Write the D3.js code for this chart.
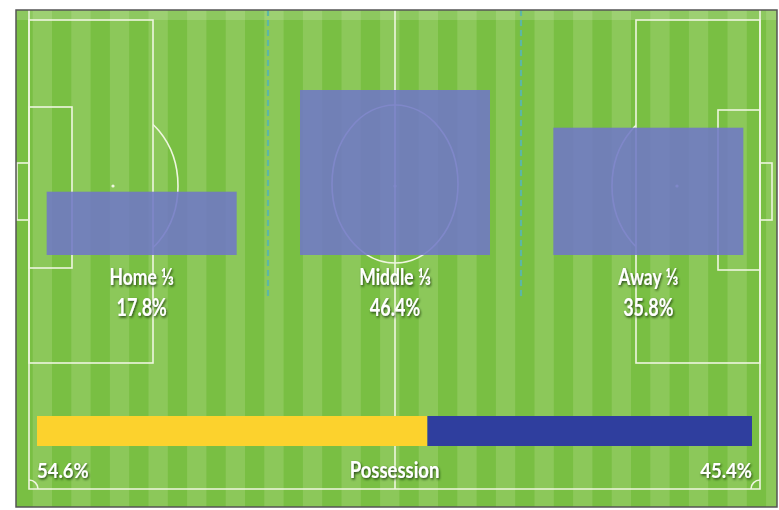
<!DOCTYPE html>
<html>
<head>
<meta charset="utf-8">
<script src="https://cdn.jsdelivr.net/npm/d3@7"></script>
<style>
  body { margin: 0; background: #fff; }
  text { font-family: Lato, "Open Sans", sans-serif; fill: #fff; }
</style>
</head>
<body>
<div id="chart"></div>
<script>
const w = 779,
      h = 510;

// territory by third
const thirds = ['Home ⅓', 'Middle ⅓', 'Away ⅓'];
const thirdValues = [17.8, 46.4, 35.8];

// possession split
const teams = ['Home', 'Away'];
const possession = [54.6, 45.4];
const possessionTitle = 'Possession';

const svg = d3.select('#chart').append('svg')
  .attr('width', w)
  .attr('height', h);

const defs = svg.append('defs');
const shadow = defs.append('filter').attr('id', 'shadow')
  .attr('x', '-20%').attr('y', '-20%').attr('width', '140%').attr('height', '160%');
shadow.append('feDropShadow')
  .attr('dx', 1).attr('dy', 1.5).attr('stdDeviation', 0.9)
  .attr('flood-color', '#17330d').attr('flood-opacity', 0.85);

defs.append('clipPath').attr('id', 'frame')
  .append('rect').attr('x', 16).attr('y', 10).attr('width', 761).attr('height', 497);
defs.append('clipPath').attr('id', 'arcL')
  .append('rect').attr('x', 153).attr('y', 0).attr('width', 100).attr('height', 400);
defs.append('clipPath').attr('id', 'arcR')
  .append('rect').attr('x', 536).attr('y', 0).attr('width', 100).attr('height', 400);

// pitch background
const pitch = svg.append('g').attr('clip-path', 'url(#frame)');
pitch.append('rect')
  .attr('x', 16).attr('y', 10).attr('width', 761).attr('height', 497)
  .attr('fill', '#79bf43');

const stripeW = 19.3;
pitch.selectAll('rect.stripe')
  .data(d3.range(0, 21))
  .enter()
  .append('rect')
  .attr('class', 'stripe')
  .attr('x', i => 32.7 + i * stripeW * 2)
  .attr('y', 10)
  .attr('width', stripeW)
  .attr('height', 497)
  .attr('fill', '#8cc85a');

pitch.append('rect')
  .attr('x', 16).attr('y', 10).attr('width', 761).attr('height', 10)
  .attr('fill', '#fff').attr('opacity', 0.15);

// pitch markings
const lines = pitch.append('g')
  .attr('fill', 'none')
  .attr('stroke', '#eef6df')
  .attr('stroke-width', 1.6);

lines.append('path').attr('d', 'M29,0 V489 H760 V0');
lines.append('line').attr('x1', 395).attr('x2', 395).attr('y1', 0).attr('y2', 489);
lines.append('rect').attr('x', 29).attr('y', 20).attr('width', 124).attr('height', 343);
lines.append('rect').attr('x', 636).attr('y', 20).attr('width', 124).attr('height', 343);
lines.append('rect').attr('x', 29).attr('y', 107).attr('width', 43).attr('height', 161);
lines.append('rect').attr('x', 718).attr('y', 110).attr('width', 42).attr('height', 160);
lines.append('rect').attr('x', 17).attr('y', 163).attr('width', 12).attr('height', 57);
lines.append('rect').attr('x', 760).attr('y', 163).attr('width', 12).attr('height', 57);
lines.append('ellipse').attr('cx', 395).attr('cy', 184).attr('rx', 63).attr('ry', 79);
lines.append('ellipse').attr('cx', 113).attr('cy', 186).attr('rx', 65).attr('ry', 78)
  .attr('clip-path', 'url(#arcL)');
lines.append('ellipse').attr('cx', 677).attr('cy', 186).attr('rx', 65).attr('ry', 78)
  .attr('clip-path', 'url(#arcR)');
lines.append('path').attr('d', 'M29,480 A9,9 0 0 1 38,489');
lines.append('path').attr('d', 'M751,489 A9,9 0 0 1 760,480');

[[113, 186], [395, 186], [677, 186]].forEach(([cx, cy]) => {
  pitch.append('circle').attr('cx', cx).attr('cy', cy).attr('r', 1.6).attr('fill', '#eef6df');
});

pitch.selectAll('line.third')
  .data([268, 521])
  .enter()
  .append('line')
  .attr('class', 'third')
  .attr('x1', d => d).attr('x2', d => d)
  .attr('y1', 10).attr('y2', 300)
  .attr('stroke', '#5db7a4')
  .attr('stroke-width', 2.2)
  .attr('stroke-dasharray', '6,4');

// territory bars
const xScale = d3.scaleBand()
  .domain(thirds)
  .range([15, 775])
  .paddingInner(0.25)
  .paddingOuter(0.125);

const yScale = d3.scaleLinear()
  .domain([0, d3.max(thirdValues)])
  .range([255, 90]);

svg.selectAll('rect.bar')
  .data(thirdValues)
  .enter()
  .append('rect')
  .attr('class', 'bar')
  .attr('x', (d, i) => xScale(thirds[i]))
  .attr('y', d => yScale(d))
  .attr('width', xScale.bandwidth())
  .attr('height', d => yScale(0) - yScale(d))
  .attr('fill', 'rgb(112,120,198)')
  .attr('opacity', 0.88);

const labels = svg.selectAll('g.label')
  .data(thirdValues)
  .enter()
  .append('g')
  .attr('class', 'label')
  .attr('filter', 'url(#shadow)')
  .attr('text-anchor', 'middle');

labels.append('text')
  .attr('transform', (d, i) => `translate(${xScale(thirds[i]) + xScale.bandwidth() / 2}, 285) scale(1, 1.25)`)
  .style('font-size', '17.5px')
  .style('font-weight', 700)
  .text((d, i) => thirds[i]);

labels.append('text')
  .attr('transform', (d, i) => `translate(${xScale(thirds[i]) + xScale.bandwidth() / 2}, 316) scale(1, 1.4)`)
  .style('font-size', '18px')
  .style('font-weight', 700)
  .text(d => d.toFixed(1) + '%');

// possession bar
const pScale = d3.scaleLinear()
  .domain([0, d3.sum(possession)])
  .range([37, 752]);

const stack = possession.map((v, i) => ({
  team: teams[i],
  x0: d3.sum(possession.slice(0, i)),
  x1: d3.sum(possession.slice(0, i + 1))
}));

svg.selectAll('rect.poss')
  .data(stack)
  .enter()
  .append('rect')
  .attr('class', 'poss')
  .attr('x', d => pScale(d.x0))
  .attr('y', 416)
  .attr('width', d => pScale(d.x1) - pScale(d.x0))
  .attr('height', 30)
  .attr('fill', (d, i) => i === 0 ? '#fcd22d' : '#2f3e9e');

const pLabels = svg.append('g').attr('filter', 'url(#shadow)')
  .style('font-weight', 700);

pLabels.append('text')
  .attr('transform', `translate(${pScale(0)}, 478) scale(1, 1.15)`)
  .attr('text-anchor', 'start')
  .style('font-size', '18.5px')
  .text(possession[0].toFixed(1) + '%');

pLabels.append('text')
  .attr('transform', `translate(${pScale(d3.sum(possession))}, 478) scale(1, 1.15)`)
  .attr('text-anchor', 'end')
  .style('font-size', '18.5px')
  .text(possession[1].toFixed(1) + '%');

pLabels.append('text')
  .attr('transform', `translate(${(pScale.range()[0] + pScale.range()[1]) / 2}, 478) scale(1, 1.2)`)
  .attr('text-anchor', 'middle')
  .style('font-size', '18.5px')
  .style('font-weight', 700)
  .text(possessionTitle);

// frame
svg.append('rect')
  .attr('x', 16).attr('y', 10).attr('width', 761).attr('height', 497)
  .attr('fill', 'none')
  .attr('stroke', '#555')
  .attr('stroke-width', 1.5);
</script>
</body>
</html>
